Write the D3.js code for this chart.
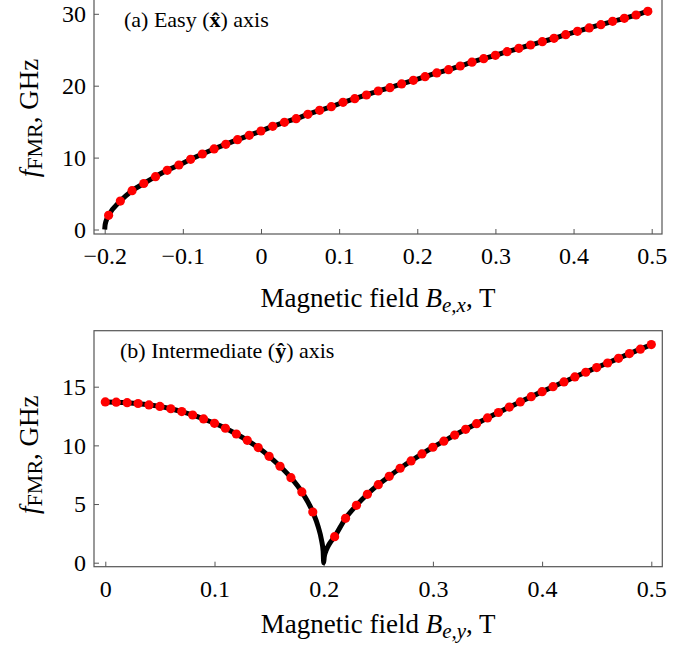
<!DOCTYPE html>
<html>
<head>
<meta charset="utf-8">
<script src="https://cdn.jsdelivr.net/npm/d3@7"></script>
<style>
  body { margin: 0; background: #fff; }
  svg { display: block; }
  text { font-family: "Liberation Serif", "Times New Roman", serif; fill: #000; }
</style>
</head>
<body>
<svg width="696" height="656"></svg>
<script>
// (a) easy axis: field B_e,x (T) and FMR frequency (GHz)
var easyField = [-0.195, -0.18, -0.165, -0.15, -0.135, -0.12, -0.105, -0.09, -0.075, -0.06,
  -0.045, -0.03, -0.015, 0, 0.015, 0.03, 0.045, 0.06, 0.075, 0.09,
  0.105, 0.12, 0.135, 0.15, 0.165, 0.18, 0.195, 0.21, 0.225, 0.24,
  0.255, 0.27, 0.285, 0.3, 0.315, 0.33, 0.345, 0.36, 0.375, 0.39,
  0.405, 0.42, 0.435, 0.45, 0.465, 0.48, 0.495];
var easyFreq = [1.97, 3.96, 5.40, 6.40, 7.35, 8.23, 8.97, 9.76, 10.50, 11.20,
  11.85, 12.49, 13.10, 13.70, 14.35, 14.91, 15.41, 16.02, 16.57, 17.08,
  17.69, 18.20, 18.71, 19.26, 19.73, 20.24, 20.75, 21.26, 21.77, 22.23,
  22.74, 23.27, 23.76, 24.22, 24.73, 25.20, 25.66, 26.12, 26.59, 27.10,
  27.56, 28.03, 28.49, 28.95, 29.37, 29.83, 30.34];
// extra points of the solid curve that have no dot (cusp at -0.2 and the end)
var easyCurveField = [-0.2, -0.1995, -0.199, -0.1975, 0.5];
var easyCurveFreq = [0, 0.62, 0.88, 1.40, 30.45];

// (b) intermediate axis
var interField = [0, 0.01, 0.02, 0.03, 0.04, 0.05, 0.06, 0.07, 0.08, 0.09,
  0.1, 0.11, 0.12, 0.13, 0.14, 0.15, 0.16, 0.17, 0.18, 0.19,
  0.21, 0.22, 0.23, 0.24, 0.25, 0.26, 0.27, 0.28, 0.29, 0.3,
  0.31, 0.32, 0.33, 0.34, 0.35, 0.36, 0.37, 0.38, 0.39, 0.4,
  0.41, 0.42, 0.43, 0.44, 0.45, 0.46, 0.47, 0.48, 0.49, 0.5];
var interFreq = [13.70, 13.68, 13.64, 13.57, 13.45, 13.32, 13.12, 12.88, 12.59, 12.25,
  11.88, 11.46, 10.97, 10.43, 9.81, 9.07, 8.22, 7.25, 6.03, 4.32,
  2.22, 3.78, 4.89, 5.83, 6.65, 7.36, 8.05, 8.67, 9.27, 9.84,
  10.36, 10.88, 11.37, 11.85, 12.34, 12.80, 13.26, 13.70, 14.15, 14.58,
  15.00, 15.41, 15.83, 16.23, 16.63, 17.02, 17.42, 17.82, 18.20, 18.59];
var interCurveField = [0.195, 0.198, 0.1995, 0.2, 0.2005, 0.202, 0.205];
var interCurveFreq = [3.05, 1.93, 0.97, 0, 0.50, 0.99, 1.57];

var easyXTicks = [-0.2, -0.1, 0, 0.1, 0.2, 0.3, 0.4, 0.5];
var easyYTicks = [0, 10, 20, 30];
var interXTicks = [0, 0.1, 0.2, 0.3, 0.4, 0.5];
var interYTicks = [0, 5, 10, 15];

var svg = d3.select("svg");
var frameColor = "#555";

function zip(xs, ys) {
  return xs.map(function(x, i) { return {b: x, f: ys[i]}; });
}

function drawPanel(p) {
  var x = d3.scaleLinear().domain(p.xDom).range(p.xRange);
  var y = d3.scaleLinear().domain(p.yDom).range(p.yRange);
  var g = svg.append("g");

  var fmt = function(d) { return d === 0 ? "0" : d3.format(".1f")(d); };

  var xAxis = g.append("g")
    .attr("transform", "translate(0," + p.bottom + ")")
    .call(d3.axisBottom(x).tickValues(p.xTicks).tickFormat(fmt)
      .tickSizeInner(-5).tickSizeOuter(0).tickPadding(13));
  var yAxis = g.append("g")
    .attr("transform", "translate(" + p.left + ",0)")
    .call(d3.axisLeft(y).tickValues(p.yTicks).tickFormat(d3.format("d"))
      .tickSizeInner(-5).tickSizeOuter(0).tickPadding(8));
  [xAxis, yAxis].forEach(function(a) {
    a.select(".domain").remove();
    a.selectAll(".tick line").attr("stroke", frameColor);
    a.selectAll(".tick text").attr("font-size", 24)
      .style("font-family", '"Liberation Serif", "Times New Roman", serif');
  });

  g.append("rect")
    .attr("x", p.left).attr("y", p.top)
    .attr("width", p.right - p.left).attr("height", p.bottom - p.top)
    .attr("fill", "none").attr("stroke", frameColor).attr("stroke-width", 1.2);

  var curve = zip(p.field, p.freq).concat(zip(p.curveField, p.curveFreq))
    .sort(function(a, b) { return a.b - b.b; });
  var line = d3.line()
    .x(function(d) { return x(d.b); })
    .y(function(d) { return y(d.f); })
    .curve(d3.curveMonotoneX);

  g.append("path").datum(curve)
    .attr("d", line)
    .attr("fill", "none").attr("stroke", "#000").attr("stroke-width", 5);

  g.selectAll("circle.dot").data(zip(p.field, p.freq)).enter()
    .append("circle").attr("class", "dot")
    .attr("cx", function(d) { return x(d.b); })
    .attr("cy", function(d) { return y(d.f); })
    .attr("r", 4.6)
    .attr("fill", "#ff0000");

  // panel note
  var note = g.append("text").attr("x", p.noteX).attr("y", p.noteY).attr("font-size", 22);
  note.append("tspan").text(p.note[0]);
  note.append("tspan").attr("font-weight", "bold").text(p.note[1]);
  note.append("tspan").text(p.note[2]);

  // x label
  var xl = g.append("text")
    .attr("x", (p.left + p.right) / 2).attr("y", p.xLabelY)
    .attr("text-anchor", "middle").attr("font-size", 27);
  xl.append("tspan").text("Magnetic field ");
  xl.append("tspan").attr("font-style", "italic").text("B");
  xl.append("tspan").attr("font-style", "italic").attr("font-size", 21).attr("dy", 5).text(p.sub);
  xl.append("tspan").attr("dy", -5).text(", T");

  // y label
  var yl = g.append("text")
    .attr("transform", "translate(38," + ((p.top + p.bottom) / 2 + p.yLabelShift) + ") rotate(-90)")
    .attr("text-anchor", "middle").attr("font-size", 27);
  yl.append("tspan").attr("font-style", "italic").text("f");
  yl.append("tspan").attr("font-size", 22).attr("dy", 4).text("FMR");
  yl.append("tspan").attr("dy", -4).text(", GHz");
}

drawPanel({
  field: easyField, freq: easyFreq,
  curveField: easyCurveField, curveFreq: easyCurveFreq,
  xDom: [-0.2, 0.5], xRange: [104.7, 651.7],
  yDom: [0, 30], yRange: [229.5, 13.8],
  left: 94, right: 662, top: -2, bottom: 234,
  xTicks: easyXTicks, yTicks: easyYTicks,
  note: ["(a) Easy (", "x\u0302", ") axis"], noteX: 124, noteY: 27,
  sub: "e,x", xLabelY: 307, yLabelShift: 2
});

drawPanel({
  field: interField, freq: interFreq,
  curveField: interCurveField, curveFreq: interCurveFreq,
  xDom: [0, 0.5], xRange: [105.3, 651.3],
  yDom: [0, 15], yRange: [562.7, 386.7],
  left: 94, right: 662.3, top: 330.7, bottom: 566.7,
  xTicks: interXTicks, yTicks: interYTicks,
  note: ["(b) Intermediate (", "y\u0302", ") axis"], noteX: 120, noteY: 358,
  sub: "e,y", xLabelY: 633, yLabelShift: 6
});
</script>
</body>
</html>
